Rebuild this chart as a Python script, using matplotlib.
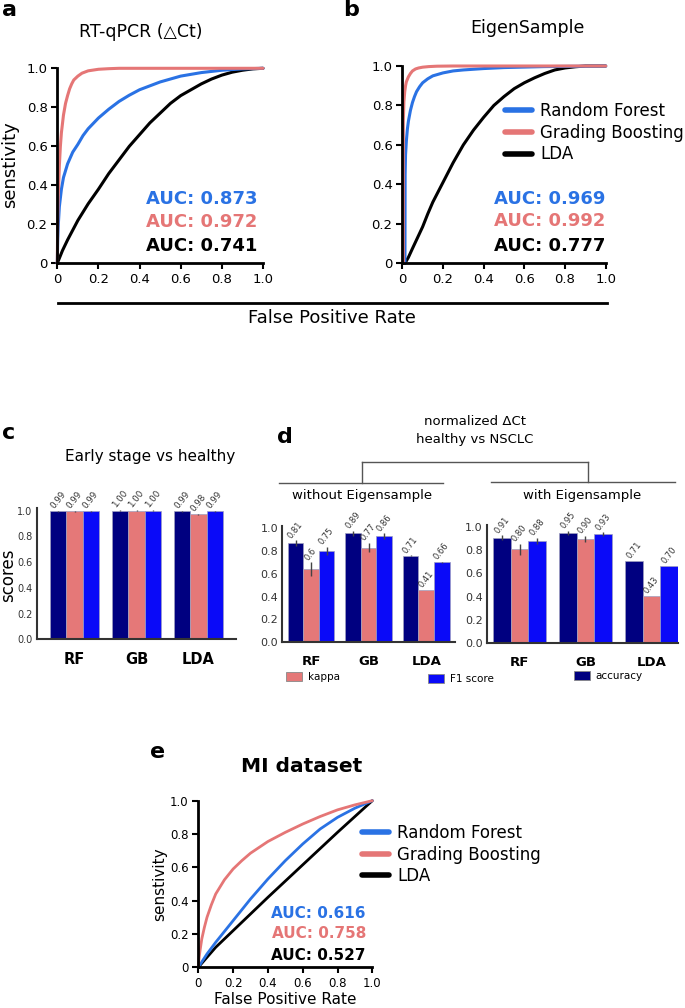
import numpy as np
import matplotlib
matplotlib.use('Agg')
import matplotlib.pyplot as plt
from matplotlib.lines import Line2D
from matplotlib.patches import Patch

plt.rcParams['font.family'] = ['DejaVu Sans']

# ---- ROC data ----
# a: RT-qPCR (dCt)
a_fpr_rf = [0, 0.002, 0.005, 0.01, 0.02, 0.03, 0.05, 0.075, 0.1, 0.125, 0.15, 0.2, 0.25,
            0.3, 0.35, 0.4, 0.5, 0.6, 0.7, 0.8, 0.9, 1.0]
a_tpr_rf = [0, 0.12, 0.2, 0.29, 0.38, 0.44, 0.51, 0.57, 0.61, 0.655, 0.69, 0.745, 0.79,
            0.83, 0.862, 0.89, 0.93, 0.96, 0.978, 0.99, 0.997, 1.0]
a_fpr_gb = [0, 0.002, 0.005, 0.01, 0.015, 0.02, 0.03, 0.04, 0.05, 0.06, 0.07, 0.08, 0.1,
            0.12, 0.15, 0.2, 0.25, 0.3, 1.0]
a_tpr_gb = [0, 0.22, 0.35, 0.5, 0.6, 0.67, 0.76, 0.82, 0.86, 0.895, 0.92, 0.94, 0.96,
            0.975, 0.987, 0.995, 0.998, 1.0, 1.0]
a_fpr_lda = [0, 0.025, 0.05, 0.075, 0.1, 0.15, 0.2, 0.25, 0.3, 0.35, 0.4, 0.45, 0.5, 0.55,
             0.6, 0.65, 0.7, 0.75, 0.8, 0.85, 0.9, 0.95, 1.0]
a_tpr_lda = [0, 0.065, 0.12, 0.17, 0.22, 0.305, 0.38, 0.46, 0.53, 0.6, 0.66, 0.72, 0.77, 0.82,
             0.86, 0.89, 0.92, 0.945, 0.965, 0.98, 0.99, 0.997, 1.0]
a_auc = ['0.873', '0.972', '0.741']

# b: EigenSample
b_fpr_rf = [0.013, 0.014, 0.016, 0.02, 0.025, 0.03, 0.04, 0.05, 0.06, 0.07, 0.085, 0.1,
            0.125, 0.15, 0.2, 0.25, 0.3, 0.4, 0.5, 0.7, 1.0]
b_tpr_rf = [0, 0.45, 0.55, 0.62, 0.68, 0.72, 0.775, 0.815, 0.845, 0.87, 0.895, 0.915,
            0.935, 0.95, 0.965, 0.975, 0.98, 0.987, 0.992, 0.997, 1.0]
b_fpr_gb = [0.005, 0.005, 0.008, 0.012, 0.016, 0.02, 0.03, 0.04, 0.05, 0.065, 0.08, 0.1,
            0.13, 0.17, 0.25, 1.0]
b_tpr_gb = [0, 0.72, 0.82, 0.87, 0.9, 0.92, 0.945, 0.962, 0.975, 0.985, 0.99, 0.994,
            0.997, 0.999, 1.0, 1.0]
b_fpr_lda = [0.013, 0.03, 0.05, 0.075, 0.1, 0.125, 0.15, 0.2, 0.25, 0.3, 0.35, 0.4, 0.45,
             0.5, 0.55, 0.6, 0.65, 0.7, 0.75, 0.8, 0.85, 0.9, 1.0]
b_tpr_lda = [0, 0.03, 0.075, 0.13, 0.185, 0.25, 0.31, 0.41, 0.51, 0.6, 0.675, 0.74, 0.8,
             0.845, 0.885, 0.915, 0.94, 0.962, 0.98, 0.99, 0.996, 1.0, 1.0]
b_auc = ['0.969', '0.992', '0.777']

# e: MI dataset
e_fpr_rf = [0, 0.05, 0.1, 0.15, 0.2, 0.3, 0.4, 0.5, 0.6, 0.7, 0.8, 0.9, 1.0]
e_tpr_rf = [0, 0.08, 0.15, 0.215, 0.28, 0.41, 0.53, 0.64, 0.74, 0.83, 0.9, 0.955, 1.0]
e_fpr_gb = [0, 0.005, 0.01, 0.02, 0.035, 0.05, 0.075, 0.1, 0.15, 0.2, 0.25, 0.3, 0.35,
            0.4, 0.5, 0.6, 0.7, 0.8, 0.9, 1.0]
e_tpr_gb = [0, 0.06, 0.1, 0.17, 0.24, 0.3, 0.375, 0.44, 0.525, 0.59, 0.64, 0.685, 0.72,
            0.755, 0.81, 0.86, 0.905, 0.945, 0.975, 1.0]
e_fpr_lda = [0, 0.1, 0.2, 0.4, 0.6, 0.8, 1.0]
e_tpr_lda = [0, 0.12, 0.22, 0.42, 0.615, 0.81, 1.0]
e_auc = ['0.616', '0.758', '0.527']

model_names = ['Random Forest', 'Grading Boosting', 'LDA']
roc_ticks = [0, 0.2, 0.4, 0.6, 0.8, 1.0]
roc_ticklabels = ['0', '0.2', '0.4', '0.6', '0.8', '1.0']

# ---- bar data ----
models = ['RF', 'GB', 'LDA']
# c: early stage vs healthy
c_acc = [0.995, 1.0, 0.995]
c_kappa = [0.995, 1.0, 0.97]
c_f1 = [0.995, 1.0, 0.995]
c_acc_lab = ['0.99', '1.00', '0.99']
c_kappa_lab = ['0.99', '1.00', '0.98']
c_f1_lab = ['0.99', '1.00', '0.99']
c_err = [0.003, 0.002, 0.003]

# d: without Eigensample
d1_acc = [0.868, 0.956, 0.76]
d1_kappa = [0.64, 0.83, 0.46]
d1_f1 = [0.80, 0.93, 0.70]
d1_acc_err = [0.025, 0.02, 0.003]
d1_kappa_err = [0.06, 0.04, 0.003]
d1_f1_err = [0.035, 0.025, 0.003]
d1_acc_lab = ['0.81', '0.89', '0.71']
d1_kappa_lab = ['0.6', '0.77', '0.41']
d1_f1_lab = ['0.75', '0.86', '0.66']

# d: with Eigensample
d2_acc = [0.906, 0.948, 0.705]
d2_kappa = [0.806, 0.894, 0.405]
d2_f1 = [0.877, 0.937, 0.665]
d2_acc_err = [0.02, 0.015, 0.002]
d2_kappa_err = [0.05, 0.025, 0.002]
d2_f1_err = [0.025, 0.015, 0.002]
d2_acc_lab = ['0.91', '0.95', '0.71']
d2_kappa_lab = ['0.80', '0.90', '0.43']
d2_f1_lab = ['0.88', '0.93', '0.70']

# colours
c_rf = '#2a72e4'
c_gb = '#e57676'
c_lda = '#000000'
c_navy = '#000080'
c_salmon = '#e57878'
c_blue = '#0a0af8'

W, H = 685, 1008
fig = plt.figure(figsize=(W / 100, H / 100), dpi=100)


def add_ax(l, t, r, b):
    return fig.add_axes([l / W, 1 - b / H, (r - l) / W, (b - t) / H])


def ftext(x, y, s, **kw):
    fig.text(x / W, 1 - y / H, s, **kw)


def roc_axes(ax, curves, tick_fs, lw):
    for fpr, tpr, col in curves:
        ax.plot(fpr, tpr, color=col, lw=lw, clip_on=False, solid_capstyle='round',
                solid_joinstyle='round')
    ax.set_xlim(0, 1)
    ax.set_ylim(0, 1)
    for s in ['top', 'right']:
        ax.spines[s].set_visible(False)
    for s in ['left', 'bottom']:
        ax.spines[s].set_linewidth(2)
    ax.set_xticks(roc_ticks)
    ax.set_xticklabels(roc_ticklabels)
    ax.set_yticks(roc_ticks)
    ax.set_yticklabels(roc_ticklabels)
    ax.tick_params(width=1.5, length=4, labelsize=tick_fs, pad=3)
    ax.patch.set_alpha(0)


def auc_texts(x, ys, aucs, fs):
    for y, a, col in zip(ys, aucs, [c_rf, c_gb, c_lda]):
        ftext(x, y, f'AUC: {a}', color=col, fontsize=fs, fontweight='bold',
              ha='right', va='center')


def bar_axes(ax, acc, kap, f1, errs, labs, tick_fs, xt_fs, lab_fs, w):
    x = np.arange(len(models))
    for off, vals, err, lab, col in zip([-w, 0, w], [acc, kap, f1], errs, labs,
                                        [c_navy, c_salmon, c_blue]):
        ax.bar(x + off, vals, w, color=col, edgecolor='#a0a0c0', linewidth=0.5,
               yerr=err, error_kw=dict(ecolor='#444444', elinewidth=1, capsize=0))
        for xi, v, e, l in zip(x, vals, err, lab):
            ax.text(xi + off, v + e + 0.005, l, rotation=52, ha='center', va='bottom',
                    fontsize=lab_fs, color='#333333')
    for s in ['top', 'right']:
        ax.spines[s].set_visible(False)
    for s in ['left', 'bottom']:
        ax.spines[s].set_linewidth(1.5)
        ax.spines[s].set_color('#333333')
    ax.set_yticks([0, 0.2, 0.4, 0.6, 0.8, 1.0])
    ax.set_yticklabels(['0.0', '0.2', '0.4', '0.6', '0.8', '1.0'])
    ax.tick_params(axis='y', length=0, labelsize=tick_fs, labelcolor='#333333', pad=3)
    ax.set_xticks(x)
    ax.set_xticklabels(models, fontweight='bold')
    ax.tick_params(axis='x', length=0, labelsize=xt_fs, pad=9)


# ---- panel a ----
ax_a = add_ax(57.3, 68.3, 263, 263.3)
roc_axes(ax_a, [(a_fpr_lda, a_tpr_lda, c_lda), (a_fpr_rf, a_tpr_rf, c_rf),
                (a_fpr_gb, a_tpr_gb, c_gb)], 9.5, 2.2)
auc_texts(257, [199, 222, 246], a_auc, 13)
ftext(141, 32, 'RT-qPCR (\u25b3Ct)', fontsize=12.5, ha='center', va='center')
ftext(10, 165, 'senstivity', fontsize=13, rotation=90, ha='center', va='center')
ftext(2, 10, 'a', fontsize=16, fontweight='bold', va='center')

# ---- panel b ----
ax_b = add_ax(402.3, 66, 605.7, 263.3)
roc_axes(ax_b, [(b_fpr_lda, b_tpr_lda, c_lda), (b_fpr_rf, b_tpr_rf, c_rf),
                (b_fpr_gb, b_tpr_gb, c_gb)], 9.5, 2.2)
auc_texts(605.7, [199, 221, 246], b_auc, 13)
ftext(527, 28, 'EigenSample', fontsize=12.5, ha='center', va='center')
ftext(343, 10, 'b', fontsize=16, fontweight='bold', va='center')

leg_handles = [Line2D([], [], color=c, lw=4, solid_capstyle='round') for c in [c_rf, c_gb, c_lda]]
fig.legend(leg_handles, model_names, loc='upper left', frameon=False, fontsize=12,
           bbox_to_anchor=(505 / W, 1 - 102 / H), handlelength=1.6, handletextpad=0.5,
           labelspacing=0.22, borderpad=0, borderaxespad=0)

# overlay for decorations (shared x label line, bracket)
ov = fig.add_axes([0, 0, 1, 1])
ov.set_xlim(0, W)
ov.set_ylim(H, 0)
ov.axis('off')
ov.patch.set_alpha(0)
ov.plot([58, 607], [303, 303], color='black', lw=2)
ftext(332, 318, 'False Positive Rate', fontsize=13, ha='center', va='center')

# ---- panel c ----
ax_c = add_ax(36.7, 508, 236, 639.3)
bar_axes(ax_c, c_acc, c_kappa, c_f1, [c_err, c_err, c_err],
         [c_acc_lab, c_kappa_lab, c_f1_lab], 7, 10.5, 6.3, 0.263)
ax_c.set_xlim(-0.61, 2.605)
ax_c.set_ylim(0, 1.02)
ftext(150, 456, 'Early stage vs healthy', fontsize=11, ha='center', va='center')
ftext(8, 575, 'scores', fontsize=12, rotation=90, ha='center', va='center')
ftext(2, 433, 'c', fontsize=16, fontweight='bold', va='center')

# ---- panel d ----
ax_d1 = add_ax(282.3, 526, 455, 642.3)
bar_axes(ax_d1, d1_acc, d1_kappa, d1_f1, [d1_acc_err, d1_kappa_err, d1_f1_err],
         [d1_acc_lab, d1_kappa_lab, d1_f1_lab], 8, 9.5, 6, 0.27)
ax_d1.set_xlim(-0.5, 2.5)
ax_d1.set_ylim(0, 1.02)

ax_d2 = add_ax(486.7, 524.5, 677.7, 643.3)
bar_axes(ax_d2, d2_acc, d2_kappa, d2_f1, [d2_acc_err, d2_kappa_err, d2_f1_err],
         [d2_acc_lab, d2_kappa_lab, d2_f1_lab], 8, 9.5, 6, 0.267)
ax_d2.set_xlim(-0.5, 2.4)
ax_d2.set_ylim(0, 1.02)

ftext(277, 437, 'd', fontsize=16, fontweight='bold', va='center')
ftext(475, 421, 'normalized \u0394Ct', fontsize=9.5, ha='center', va='center')
ftext(475, 440, 'healthy vs NSCLC', fontsize=9.5, ha='center', va='center')
brk = dict(color='#555555', lw=1)
ov.plot([362.3, 587.7], [461.7, 461.7], **brk)
ov.plot([362.3, 362.3], [461.7, 483.3], **brk)
ov.plot([587.7, 587.7], [461.7, 481.7], **brk)
ov.plot([279, 443.3], [483.3, 483.3], **brk)
ov.plot([490.7, 675], [481.7, 481.7], **brk)
ftext(361.7, 495, 'without Eigensample', fontsize=9.5, ha='center', va='center')
ftext(582.3, 495, 'with Eigensample', fontsize=9.5, ha='center', va='center')

for name, col, x, y in [('kappa', c_salmon, 286, 677), ('F1 score', c_blue, 428, 679),
                        ('accuracy', c_navy, 574, 676)]:
    fig.legend([Patch(facecolor=col, edgecolor='#888888', linewidth=0.6)], [name],
               loc='center left', bbox_to_anchor=(x / W, 1 - y / H), frameon=False,
               fontsize=7.5, handlelength=1.5, handleheight=0.9, handletextpad=0.6,
               borderpad=0, borderaxespad=0)

# ---- panel e ----
ax_e = add_ax(198.3, 800.7, 372.3, 967.3)
roc_axes(ax_e, [(e_fpr_lda, e_tpr_lda, c_lda), (e_fpr_rf, e_tpr_rf, c_rf),
                (e_fpr_gb, e_tpr_gb, c_gb)], 8.5, 2)
auc_texts(366, [913, 934, 955], e_auc, 11)
ftext(302, 767, 'MI dataset', fontsize=14.5, fontweight='bold', ha='center', va='center')
ftext(285, 1000, 'False Positive Rate', fontsize=11, ha='center', va='center')
ftext(160, 884, 'senstivity', fontsize=11, rotation=90, ha='center', va='center')
ftext(150, 752, 'e', fontsize=16, fontweight='bold', va='center')
fig.legend(leg_handles, model_names, loc='upper left', frameon=False, fontsize=12,
           bbox_to_anchor=(362 / W, 1 - 824 / H), handlelength=1.6, handletextpad=0.5,
           labelspacing=0.22, borderpad=0, borderaxespad=0)

fig.savefig('out.png', dpi=100)
